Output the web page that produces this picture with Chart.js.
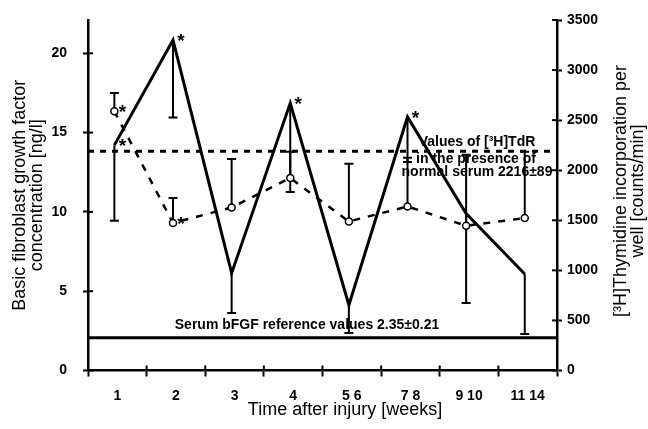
<!DOCTYPE html>
<html>
<head>
<meta charset="utf-8">
<script src="https://cdn.jsdelivr.net/npm/chart.js@4/dist/chart.umd.min.js"></script>
<style>
html,body{margin:0;padding:0;background:#fff;}
#wrap{width:648px;height:429px;}
</style>
</head>
<body>
<div id="wrap"><canvas id="c" width="648" height="429"></canvas></div>
<script>
// ---- data ----
const categories = ['1', '2', '3', '4', '5 6', '7 8', '9 10', '11 14'];
const bfgfValues = [14.21, 20.83, 6.14, 16.86, 4.13, 15.99, 9.9, 6.08];      // ng/l (left axis)
const bfgfLower = [9.44, 15.95, 3.62, 11.25, 2.36, 13.14, 4.25, 2.30];        // lower error bar end
const bfgfSignificant = [true, true, false, true, false, true, false, false];
const thyValues = [2588, 1472, 1628, 1922, 1488, 1638, 1445, 1522];          // counts/min (right axis)
const thyUpper = [2772, 1722, 2112, 2185, 2065, 2125, 2155, 2185];            // upper error bar end
const thySignificant = [true, true, false, false, false, false, false, false];
const bfgfReference = 2.07;
const thyReference = 2190;
const leftTicks = [0, 5, 10, 15, 20];
const rightTicks = [0, 500, 1000, 1500, 2000, 2500, 3000, 3500];
const bfgfRefLabel = 'Serum bFGF reference values 2.35\u00b10.21';
const thyRefLabel = ['Values of [\u00b3H]TdR', 'in the presence of', 'normal serum 2216\u00b189'];
const xTitle = 'Time after injury [weeks]';
const leftTitle = ['Basic fibroblast growth factor', 'concentration [ng/l]'];
const rightTitle = ['[\u00b3H]Thymidine incorporation per', 'well [counts/min]'];

const X_OFFSET = 0.45;
const FONT = "'Liberation Sans', Arial, Helvetica, sans-serif";
const toPts = vals => vals.map((v, i) => ({x: i + X_OFFSET, y: v}));
const nCat = categories.length;

const decorations = {
  id: 'decorations',
  beforeDatasetsDraw(chart) {
    const {ctx, scales: {x, y, y2}} = chart;
    ctx.save();
    ctx.strokeStyle = '#000';
    ctx.lineWidth = 2;
    const cap = 4.5;
    for (let i = 0; i < nCat; i++) {
      const px = x.getPixelForValue(i + X_OFFSET);
      let a = y.getPixelForValue(bfgfValues[i]), b = y.getPixelForValue(bfgfLower[i]);
      ctx.beginPath(); ctx.moveTo(px, a); ctx.lineTo(px, b);
      ctx.moveTo(px - cap, b); ctx.lineTo(px + cap, b); ctx.stroke();
      a = y2.getPixelForValue(thyValues[i]); b = y2.getPixelForValue(thyUpper[i]);
      ctx.beginPath(); ctx.moveTo(px, a); ctx.lineTo(px, b);
      ctx.moveTo(px - cap, b); ctx.lineTo(px + cap, b); ctx.stroke();
    }
    ctx.restore();
  },
  afterDraw(chart) {
    const {ctx, chartArea, scales: {x, y, y2}} = chart;
    ctx.save();
    ctx.strokeStyle = '#000';
    ctx.fillStyle = '#000';
    ctx.lineWidth = 2;
    for (let i = 0; i <= nCat; i++) {
      const px = x.getPixelForValue(i);
      ctx.beginPath(); ctx.moveTo(px, chartArea.bottom); ctx.lineTo(px, chartArea.bottom - 5); ctx.stroke();
    }
    leftTicks.forEach(v => {
      const py = y.getPixelForValue(v);
      ctx.beginPath(); ctx.moveTo(chartArea.left, py); ctx.lineTo(chartArea.left + 5, py); ctx.stroke();
    });
    rightTicks.forEach(v => {
      const py = y2.getPixelForValue(v);
      ctx.beginPath(); ctx.moveTo(chartArea.right, py); ctx.lineTo(chartArea.right - 5, py); ctx.stroke();
    });
    ctx.font = 'bold 19px ' + FONT;
    ctx.textAlign = 'center';
    ctx.textBaseline = 'alphabetic';
    for (let i = 0; i < nCat; i++) {
      const px = x.getPixelForValue(i + X_OFFSET);
      if (bfgfSignificant[i]) ctx.fillText('*', px + 8, y.getPixelForValue(bfgfValues[i]) + 7);
      if (thySignificant[i]) ctx.fillText('*', px + 8, y2.getPixelForValue(thyValues[i]) + 7);
    }
    ctx.font = 'bold 14px ' + FONT;
    ctx.textBaseline = 'middle';
    ctx.fillText(bfgfRefLabel, 307, y.getPixelForValue(bfgfReference) - 13);
    const ry = y2.getPixelForValue(thyReference);
    ctx.fillText(thyRefLabel[0], 477, ry - 9);
    ctx.fillText(thyRefLabel[1], 476, ry + 8);
    ctx.fillText(thyRefLabel[2], 477, ry + 21);
    ctx.font = '18px ' + FONT;
    ctx.fillText(xTitle, 345, 410);
    ctx.translate(0, 191);
    ctx.rotate(-Math.PI / 2);
    ctx.fillText(rightTitle[0], 0, 621);
    ctx.fillText(rightTitle[1], 0, 638);
    ctx.restore();
  }
};

new Chart(document.getElementById('c'), {
  type: 'line',
  data: {
    datasets: [
      {
        label: '[3H]TdR', data: toPts(thyValues), yAxisID: 'y2',
        borderColor: '#000', borderWidth: 2.5, borderDash: [7, 8],
        pointRadius: 3.5, pointBackgroundColor: '#fff', pointBorderColor: '#000', pointBorderWidth: 1.5,
        fill: false, tension: 0
      },
      {
        label: 'bFGF', data: toPts(bfgfValues), yAxisID: 'y',
        borderColor: '#000', borderWidth: 3, pointRadius: 0, fill: false, tension: 0
      },
      {
        label: 'TdR normal serum', data: [{x: 0, y: thyReference}, {x: nCat, y: thyReference}], yAxisID: 'y2',
        borderColor: '#000', borderWidth: 3, borderDash: [6, 6], pointRadius: 0, fill: false
      },
      {
        label: 'Serum bFGF reference', data: [{x: 0, y: bfgfReference}, {x: nCat, y: bfgfReference}], yAxisID: 'y',
        borderColor: '#000', borderWidth: 3, pointRadius: 0, fill: false
      }
    ]
  },
  options: {
    responsive: false,
    animation: false,
    devicePixelRatio: 1,
    layout: {padding: {top: 20, left: 0, right: 0, bottom: 0}},
    plugins: {legend: {display: false}, tooltip: {enabled: false}},
    scales: {
      x: {
        type: 'linear', position: 'bottom', min: 0, max: nCat,
        afterBuildTicks: s => {
          const t = [];
          for (let i = 0; i <= nCat; i++) { t.push({value: i}); if (i < nCat) t.push({value: i + 0.5}); }
          s.ticks = t;
        },
        ticks: {
          autoSkip: false, maxRotation: 0, minRotation: 0, padding: 11, color: '#000',
          font: {family: FONT, weight: 'bold', size: 14},
          callback: v => Number.isInteger(v) ? '' : categories[Math.floor(v)]
        },
        grid: {
          drawOnChartArea: false, drawTicks: true, tickLength: 6, tickWidth: 2,
          tickColor: c => (c.tick && Number.isInteger(c.tick.value)) ? '#000' : 'rgba(0,0,0,0)'
        },
        border: {display: true, color: '#000', width: 2.5},
        afterFit: s => { s.height = 58.5; s.paddingLeft = 0; s.paddingRight = 0; }
      },
      y: {
        type: 'linear', position: 'left', min: 0, max: 22.1,
        afterBuildTicks: s => { s.ticks = leftTicks.map(v => ({value: v})); },
        ticks: {padding: 16, color: '#000', font: {family: FONT, weight: 'bold', size: 14}, callback: v => String(v)},
        grid: {drawOnChartArea: false, tickLength: 5, tickWidth: 2, tickColor: '#000'},
        border: {display: true, color: '#000', width: 2.5},
        title: {
          display: true, text: leftTitle, color: '#000',
          font: {family: FONT, size: 18, lineHeight: 0.92}, padding: {top: 12, bottom: 0}
        },
        afterFit: s => { s.width = 88; s.paddingTop = 0; s.paddingBottom = 0; }
      },
      y2: {
        type: 'linear', position: 'right', min: 0, max: 3500,
        afterBuildTicks: s => { s.ticks = rightTicks.map(v => ({value: v})); },
        ticks: {padding: 5, color: '#000', font: {family: FONT, weight: 'bold', size: 14}, callback: v => String(v)},
        grid: {drawOnChartArea: false, tickLength: 5, tickWidth: 2, tickColor: '#000'},
        border: {display: true, color: '#000', width: 2.5},
        afterFit: s => { s.width = 91; s.paddingTop = 0; s.paddingBottom = 0; }
      }
    }
  },
  plugins: [decorations]
});
</script>
</body>
</html>
